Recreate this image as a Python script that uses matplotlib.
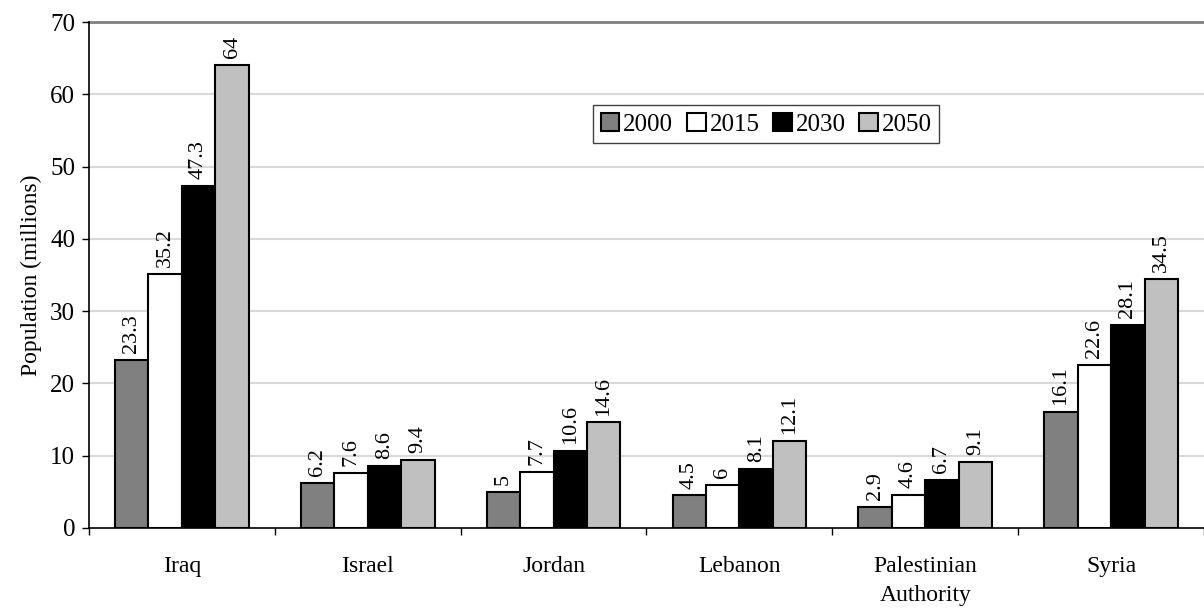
import matplotlib.pyplot as plt
import numpy as np

plt.rcParams['font.family'] = ['Liberation Serif', 'DejaVu Serif']

countries = ["Iraq", "Israel", "Jordan", "Lebanon", "Palestinian\nAuthority", "Syria"]
years = ["2000", "2015", "2030", "2050"]
pop_2000 = [23.3, 6.2, 5, 4.5, 2.9, 16.1]
pop_2015 = [35.2, 7.6, 7.7, 6, 4.6, 22.6]
pop_2030 = [47.3, 8.6, 10.6, 8.1, 6.7, 28.1]
pop_2050 = [64, 9.4, 14.6, 12.1, 9.1, 34.5]
series = [pop_2000, pop_2015, pop_2030, pop_2050]
colors = ["#808080", "#ffffff", "#000000", "#c0c0c0"]

fig = plt.figure(figsize=(12.04, 6.08), dpi=100)
ax = fig.add_axes([0.0739, 0.1316, 0.9261, 0.8322])

x = np.arange(len(countries))
width = 0.18
for i, (vals, col) in enumerate(zip(series, colors)):
    pos = x + (i - 1.5) * width
    bars = ax.bar(pos, vals, width, color=col, edgecolor="black", linewidth=1.5,
                  label=years[i], zorder=3)
    for b, v in zip(bars, vals):
        ax.annotate(f"{v:g}", (b.get_x() + b.get_width() / 2, v), xytext=(0, 5),
                    textcoords="offset points", rotation=90, ha="center", va="bottom",
                    fontsize=16)

ax.set_xlim(-0.5, len(countries) - 0.5)
ax.set_ylim(0, 70)
ax.set_yticks(range(0, 71, 10))
ax.tick_params(axis="y", labelsize=18, length=5, width=1, direction="out", pad=5)
ax.set_xticks(x)
ax.set_xticklabels(countries, fontsize=17, linespacing=1.5)
ax.tick_params(axis="x", length=0, pad=20)
ax.set_xticks(np.arange(-0.5, len(countries), 1), minor=True)
ax.tick_params(axis="x", which="minor", length=5, width=1, direction="out")
ax.set_ylabel("Population (millions)", fontsize=17, labelpad=6)

for yv in range(10, 70, 10):
    ax.axhline(yv, color="#d9d9d9", linewidth=1.5, zorder=1)
ax.axhline(70, color="#808080", linewidth=2, zorder=1, clip_on=False)

ax.spines["right"].set_visible(False)
ax.spines["top"].set_visible(False)
ax.spines["left"].set_linewidth(1.2)
ax.spines["bottom"].set_linewidth(1.2)

leg = ax.legend(loc="center", bbox_to_anchor=(0.6075, 0.798), ncol=4, fontsize=18,
                frameon=True, fancybox=False, edgecolor="#404040", framealpha=1,
                handlelength=0.75, handleheight=0.75, handletextpad=0.15,
                columnspacing=0.55, borderpad=0.3, borderaxespad=0)
leg.get_frame().set_linewidth(1)

fig.savefig("out.png", dpi=100)
